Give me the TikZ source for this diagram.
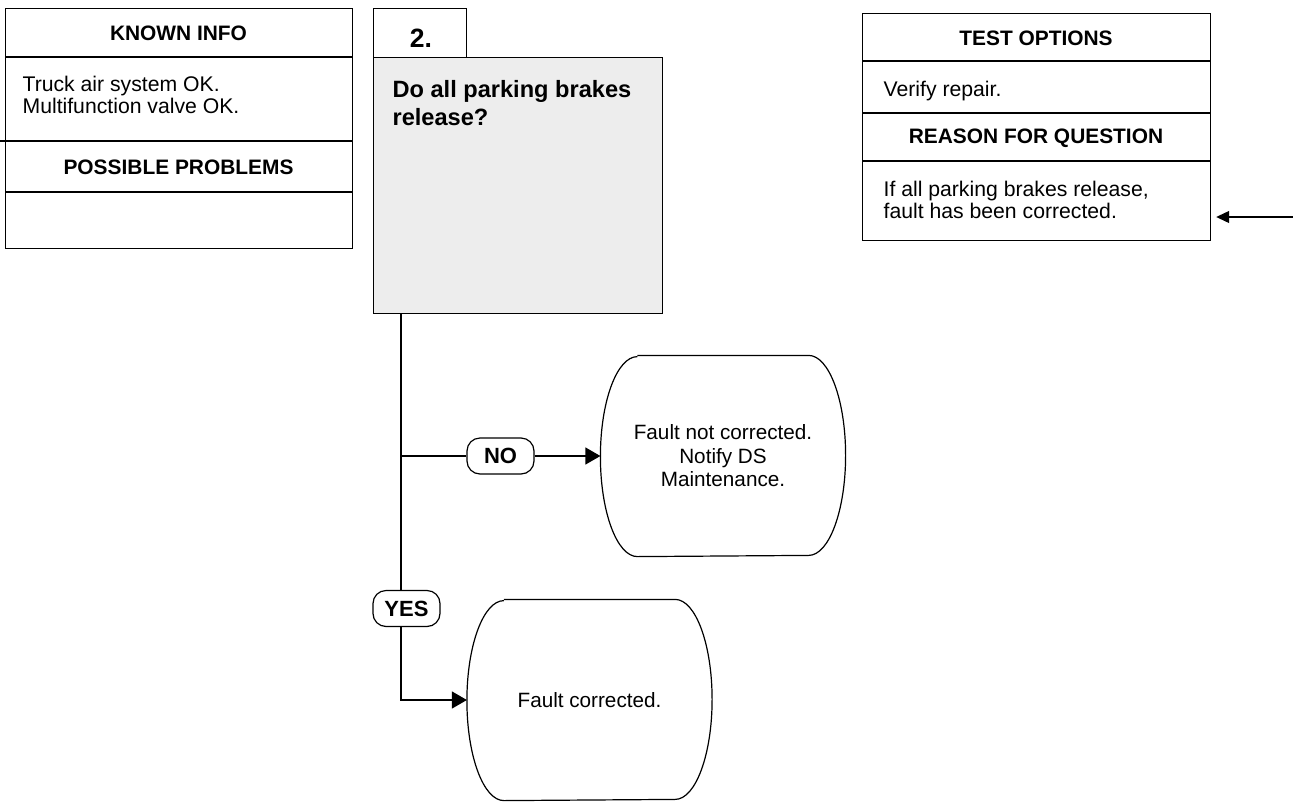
\documentclass[tikz,border=0pt]{standalone}
\usepackage{fontspec}
\setmainfont{Liberation Sans}
\usetikzlibrary{arrows.meta}
\begin{document}
\begin{tikzpicture}[x=1pt,y=-1pt,line width=1.2pt,
  box/.style={draw,rectangle,inner sep=0pt,anchor=north west},
  hdr/.style={font=\fontsize{20.9}{24}\selectfont\bfseries,inner sep=0pt},
  body/.style={font=\fontsize{21.2}{22.5}\selectfont,inner sep=0pt,align=left,anchor=base west},
  lab/.style={draw,fill=white,rounded corners=13pt,minimum width=67pt,minimum height=36pt,inner sep=0pt,font=\fontsize{22}{24}\selectfont\bfseries},
  term/.style={inner sep=0pt,minimum width=244pt,minimum height=200pt,align=center,font=\fontsize{20.7}{23.5}\selectfont},
  arr/.style={-{Triangle[length=15pt,width=17pt]}},
  arrs/.style={-{Triangle[length=13pt,width=12pt]}}]
\useasboundingbox (0,0) rectangle (1293,801);
% KNOWN INFO box
\node[box,minimum width=347pt,minimum height=240pt] (known) at (5,8) {};
\draw (5,57) -- (352,57);
\draw (0,141) -- (352,141);
\draw (5,192) -- (352,192);
\node[hdr] (kh) at (178.5,33) {KNOWN INFO};
\node[body] (kt) at (22,113.5) {Truck air system OK.\\Multifunction valve OK.};
\node[hdr] (ph) at (178.5,167) {POSSIBLE PROBLEMS};
% Step box
\node[box,minimum width=93pt,minimum height=49pt] (tab) at (373,8) {};
\node[font=\fontsize{26.5}{28}\selectfont\bfseries,inner sep=0pt,anchor=base] (num) at (421,47) {2.};
\node[box,fill=black!7,minimum width=289pt,minimum height=256pt] (q) at (373,57) {};
\node[body,font=\fontsize{23.6}{28}\selectfont\bfseries] (qt) at (392,125) {Do all parking brakes\\release?};
% TEST OPTIONS box
\node[box,minimum width=348pt,minimum height=227pt] (test) at (862,13) {};
\draw (862,61) -- (1210,61);
\draw (862,113) -- (1210,113);
\draw (862,161) -- (1210,161);
\node[hdr] (th) at (1036,38) {TEST OPTIONS};
\node[body] (tt) at (883,96) {Verify repair.};
\node[hdr] (rh) at (1036,138) {REASON FOR QUESTION};
\node[body] (rt) at (883,218.5) {If all parking brakes release,\\fault has been corrected.};
\coordinate (src) at (1293,217);
\draw[arrs,shorten >=5pt] (src) -- (test.east |- src);
% terminals
\node[term] (t1) at (723,456) {Fault not corrected.\\Notify DS\\Maintenance.};
\node[term] (t2) at (589.5,700) {Fault corrected.};
\foreach \t in {t1,t2}{
  \draw ([xshift=37pt]\t.north west) -- ([xshift=-37pt]\t.north east)
    arc[start angle=90,end angle=0,x radius=37pt,y radius=100pt]
    arc[start angle=0,end angle=-90,x radius=37pt,y radius=100pt]
    -- ([xshift=37pt]\t.south west)
    arc[start angle=-90,end angle=-180,x radius=37pt,y radius=100pt]
    arc[start angle=180,end angle=90,x radius=37pt,y radius=100pt];
}
% connectors
\coordinate (sp) at ([xshift=28pt]q.south west);
\node[lab] (no) at (500.5,456) {NO};
\draw[arr] (sp) |- (t2.west);
\draw (sp |- no.west) -- (no.west);
\draw[arr] (no.east) -- (t1.west);
\node[lab] (yes) at (406.5,608.5) {YES};
\end{tikzpicture}
\end{document}
